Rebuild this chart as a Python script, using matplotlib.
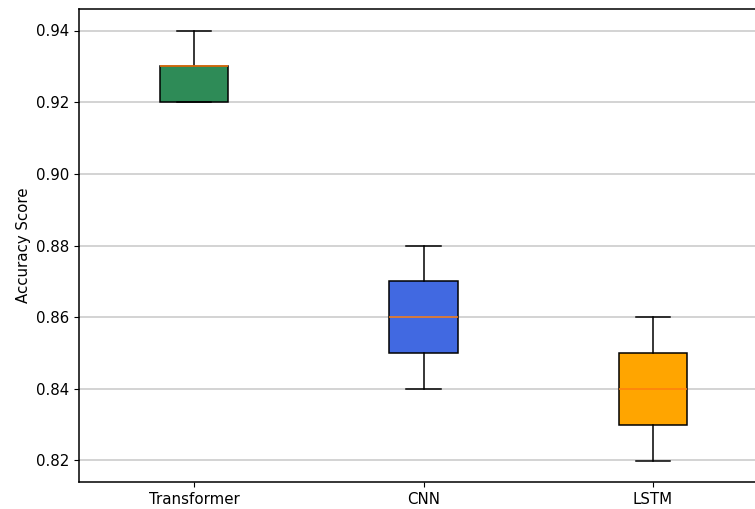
import matplotlib
matplotlib.use("Agg")
import matplotlib.pyplot as plt

plt.rcParams["font.size"] = 10.8

models = ["Transformer", "CNN", "LSTM"]
transformer_scores = [0.92, 0.92, 0.93, 0.93, 0.94]
cnn_scores = [0.84, 0.85, 0.86, 0.87, 0.88]
lstm_scores = [0.82, 0.83, 0.84, 0.85, 0.86]
box_colors = ["seagreen", "royalblue", "orange"]

fig = plt.figure(figsize=(7.55, 5.09), dpi=100)
ax = fig.add_axes([79.25 / 755, 27 / 509, 688.5 / 755, 473 / 509])

bp = ax.boxplot([transformer_scores, cnn_scores, lstm_scores], widths=0.3,
                patch_artist=True, tick_labels=models,
                boxprops=dict(linewidth=1.1), whiskerprops=dict(linewidth=1.1),
                capprops=dict(linewidth=1.1), medianprops=dict(linewidth=1.1))
for patch, c in zip(bp["boxes"], box_colors):
    patch.set_facecolor(c)
    patch.set_edgecolor("black")

for s in ax.spines.values():
    s.set_linewidth(1.1)
ax.yaxis.grid(True, color="#c8c8c8", linewidth=1.1)
ax.set_axisbelow(True)
ax.set_ylabel("Accuracy Score")

fig.savefig("out.png", dpi=100)
